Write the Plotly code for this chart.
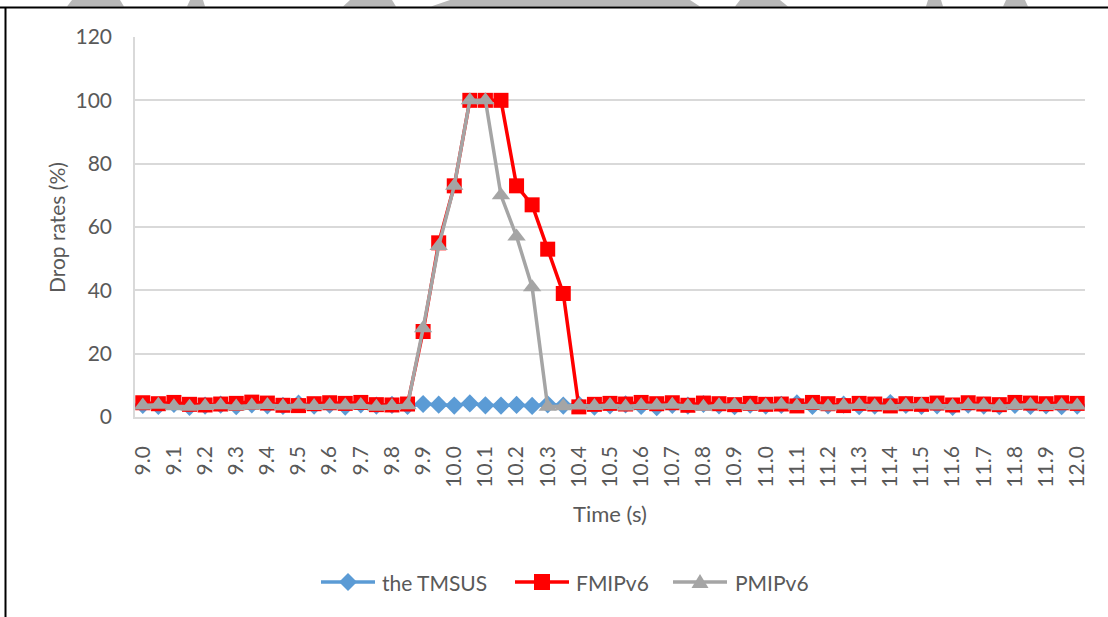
import plotly.graph_objects as go

# ---------------- data ----------------
time_s = [9.00, 9.05, 9.10, 9.15, 9.20, 9.25, 9.30, 9.35, 9.40, 9.45,
          9.50, 9.55, 9.60, 9.65, 9.70, 9.75, 9.80, 9.85, 9.90, 9.95,
          10.00, 10.05, 10.10, 10.15, 10.20, 10.25, 10.30, 10.35, 10.40, 10.45,
          10.50, 10.55, 10.60, 10.65, 10.70, 10.75, 10.80, 10.85, 10.90, 10.95,
          11.00, 11.05, 11.10, 11.15, 11.20, 11.25, 11.30, 11.35, 11.40, 11.45,
          11.50, 11.55, 11.60, 11.65, 11.70, 11.75, 11.80, 11.85, 11.90, 11.95,
          12.00]

tmsus = [3.8, 3.5, 4.1, 3.2, 3.6, 3.9, 3.4, 4.0, 3.7, 3.5,
         4.2, 3.6, 3.9, 3.3, 4.0, 3.6, 3.8, 3.5, 4.1, 3.9,
         3.6, 4.3, 3.7, 3.6, 3.8, 3.5, 4.0, 3.6, 3.9, 3.3,
         3.7, 4.0, 3.5, 3.1, 3.8, 3.6, 4.1, 3.7, 3.4, 3.9,
         3.6, 3.8, 4.3, 3.5, 3.7, 3.9, 3.4, 3.6, 4.4, 3.8,
         3.5, 3.7, 3.2, 3.9, 3.6, 3.4, 3.8, 3.5, 3.7, 3.4,
         3.6]

fmipv6 = [4.5, 4.2, 4.6, 4.0, 3.8, 4.1, 4.3, 4.7, 4.4, 3.7,
          3.6, 4.2, 4.5, 4.3, 4.6, 3.9, 3.8, 4.1, 27, 55,
          73, 100, 100, 100, 73, 67, 53, 39, 3.2, 4.0,
          4.3, 4.1, 4.6, 4.2, 4.5, 3.7, 4.4, 4.2, 3.9, 4.3,
          4.0, 4.1, 3.5, 4.6, 4.2, 3.6, 4.3, 4.1, 3.5, 4.2,
          4.0, 4.4, 3.8, 4.5, 4.1, 3.9, 4.6, 4.4, 4.2, 4.5,
          4.3]

pmipv6 = [3.6, 3.9, 3.4, 3.2, 3.5, 3.7, 3.3, 3.6, 3.8, 3.4,
          3.9, 3.5, 3.7, 3.6, 3.8, 3.2, 3.5, 3.7, 28, 54,
          73, 100, 100, 70, 57, 41, 3.2, 3.4, 3.6, 3.5,
          3.8, 3.3, 3.7, 3.6, 3.9, 3.5, 3.2, 3.7, 3.8, 3.4,
          3.6, 3.9, 3.5, 3.7, 3.3, 3.6, 3.8, 3.5, 3.4, 3.7,
          3.9, 3.6, 3.5, 3.8, 3.7, 3.4, 3.6, 3.9, 3.5, 3.7,
          3.6]

x_tick_labels = ["9.0", "9.1", "9.2", "9.3", "9.4", "9.5", "9.6", "9.7", "9.8", "9.9",
                 "10.0", "10.1", "10.2", "10.3", "10.4", "10.5", "10.6", "10.7", "10.8", "10.9",
                 "11.0", "11.1", "11.2", "11.3", "11.4", "11.5", "11.6", "11.7", "11.8", "11.9",
                 "12.0"]
y_tick_values = [0, 20, 40, 60, 80, 100, 120]

series_names = ["the TMSUS", "FMIPv6", "PMIPv6"]
series_colors = ["#5B9BD5", "#FF0000", "#A5A5A5"]

# ---------------- layout helpers ----------------
W, H = 1108, 617
PL, PR, PT, PB = 135, 1085, 37, 417   # plot-area edges in pixels


def px(x):
    return (x - PL) / (PR - PL)


def py(y):
    return (PB - y) / (PB - PT)


FONT = "Lato"
TXT = "#595959"
GRID = "#D9D9D9"

fig = go.Figure()
fig.add_trace(go.Scatter(
    x=time_s, y=tmsus, name=series_names[0], mode="lines+markers",
    line=dict(color=series_colors[0], width=3.5),
    marker=dict(symbol="diamond", size=14, color=series_colors[0])))
fig.add_trace(go.Scatter(
    x=time_s, y=fmipv6, name=series_names[1], mode="lines+markers",
    line=dict(color=series_colors[1], width=3.5),
    marker=dict(symbol="square", size=15, color=series_colors[1])))
fig.add_trace(go.Scatter(
    x=time_s, y=pmipv6, name=series_names[2], mode="lines+markers",
    line=dict(color=series_colors[2], width=3.5),
    marker=dict(symbol="triangle-up", size=16, color=series_colors[2])))

fig.update_xaxes(
    range=[8.975, 12.025],
    tickmode="array",
    tickvals=[float(t) for t in x_tick_labels],
    ticktext=x_tick_labels,
    tickangle=-90,
    tickfont=dict(family=FONT, size=21, color=TXT),
    showgrid=False, zeroline=False,
    showline=True, linecolor=GRID, linewidth=1.5,
    ticks="", ticklabelstandoff=19,
)
fig.update_yaxes(
    range=[0, 120],
    tickmode="array", tickvals=y_tick_values,
    tickfont=dict(family=FONT, size=21, color=TXT),
    showgrid=True, gridcolor=GRID, gridwidth=1.5,
    zeroline=False,
    showline=True, linecolor=GRID, linewidth=1.5,
    ticks="", ticklabelstandoff=17,
)

shapes = [
    # outer frame (black), top and left
    dict(type="line", xref="paper", yref="paper",
         x0=px(0), x1=px(W), y0=py(7.5), y1=py(7.5),
         line=dict(color="black", width=2)),
    dict(type="line", xref="paper", yref="paper",
         x0=px(5.5), x1=px(5.5), y0=py(7), y1=py(H),
         line=dict(color="black", width=2)),
]

# faint grey shapes peeking above the frame
blobs = [(67, 124, 72, 120), (187, 205, 190, 203), (343, 396, 350, 392),
         (431, 700, 450, 690), (735, 788, 740, 780), (926, 943, 928, 941),
         (1003, 1028, 1006, 1025)]
for x0, x1, tx0, tx1 in blobs:
    path = "M{},{} L{},{} L{},{} L{},{} Z".format(
        px(x0), py(6.5), px(x1), py(6.5), px(tx1), py(0), px(tx0), py(0))
    shapes.append(dict(type="path", xref="paper", yref="paper", path=path,
                       fillcolor="#B8B8B8", line=dict(width=0), layer="below"))

# ---------------- legend (drawn like the Excel legend) ----------------
LEG_Y = 582
leg_line_x = [(321, 375), (515, 569), (673, 727)]
leg_text_x = [380, 574, 733]
for i, ((a, b), tx) in enumerate(zip(leg_line_x, leg_text_x)):
    c = series_colors[i]
    shapes.append(dict(type="line", xref="paper", yref="paper",
                       x0=px(a), x1=px(b), y0=py(LEG_Y), y1=py(LEG_Y),
                       line=dict(color=c, width=3.5)))
    cx = (a + b) / 2
    if i == 0:
        r = 9
        path = "M{},{} L{},{} L{},{} L{},{} Z".format(
            px(cx - r), py(LEG_Y), px(cx), py(LEG_Y - r),
            px(cx + r), py(LEG_Y), px(cx), py(LEG_Y + r))
        shapes.append(dict(type="path", xref="paper", yref="paper", path=path,
                           fillcolor=c, line=dict(width=0)))
    elif i == 1:
        r = 8
        shapes.append(dict(type="rect", xref="paper", yref="paper",
                           x0=px(cx - r), x1=px(cx + r),
                           y0=py(LEG_Y + r), y1=py(LEG_Y - r),
                           fillcolor=c, line=dict(width=0)))
    else:
        path = "M{},{} L{},{} L{},{} Z".format(
            px(cx - 8.5), py(LEG_Y + 6), px(cx + 8.5), py(LEG_Y + 6),
            px(cx), py(LEG_Y - 8))
        shapes.append(dict(type="path", xref="paper", yref="paper", path=path,
                           fillcolor=c, line=dict(width=0)))

annotations = [
    dict(text="Time (s)", xref="paper", yref="paper",
         x=px(610), y=py(513), xanchor="center", yanchor="middle",
         showarrow=False, font=dict(family=FONT, size=22, color=TXT)),
    dict(text="Drop rates (%)", xref="paper", yref="paper",
         x=px(56), y=py(228), xanchor="center", yanchor="middle",
         textangle=-90,
         showarrow=False, font=dict(family=FONT, size=21, color=TXT)),
]
for name, tx in zip(series_names, leg_text_x):
    annotations.append(dict(text=name, xref="paper", yref="paper",
                            x=px(tx), y=py(LEG_Y), xanchor="left", yanchor="middle",
                            showarrow=False,
                            font=dict(family=FONT, size=21, color=TXT)))

fig.update_layout(
    width=W, height=H,
    margin=dict(l=PL, r=W - PR, t=PT, b=H - PB, pad=0),
    paper_bgcolor="white", plot_bgcolor="white",
    showlegend=False,
    shapes=shapes,
    annotations=annotations,
)

fig.write_html("out.html")
